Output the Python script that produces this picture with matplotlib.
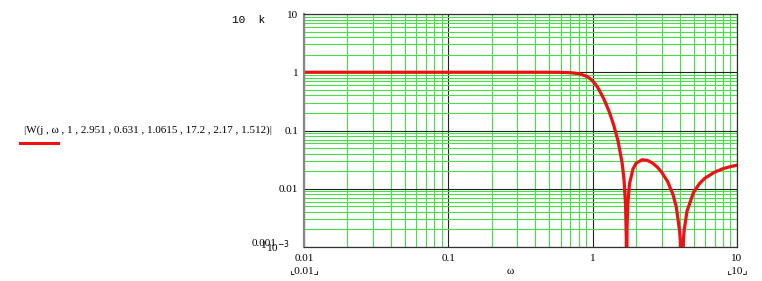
import numpy as np
import matplotlib
matplotlib.use("Agg")
import matplotlib.pyplot as plt
from matplotlib.lines import Line2D
from matplotlib.ticker import LogLocator, NullFormatter

# values
omega = [0.01, 0.1, 0.2, 0.3, 0.4, 0.5, 0.6, 0.7, 0.8, 0.9, 0.95, 1.0, 1.05,
         1.1, 1.2, 1.3, 1.4, 1.5, 1.6, 1.65, 1.69, 1.71, 1.718, 1.73, 1.75,
         1.8, 1.9, 2.0, 2.2, 2.4, 2.6, 2.8, 3.0, 3.3, 3.6, 3.8, 4.0, 4.05,
         4.147, 4.25, 4.3, 4.5, 5.0, 5.5, 6.0, 7.0, 8.0, 9.0, 10.0]
mag = [1.0, 1.0, 1.0, 1.0, 1.0, 0.999, 0.996, 0.983, 0.947, 0.861, 0.792,
       0.707, 0.612, 0.516, 0.341, 0.212, 0.123, 0.0653, 0.0276, 0.0141,
       0.0053, 0.0014, 1e-5, 0.0021, 0.0053, 0.0122, 0.0217, 0.0274, 0.0315,
       0.0306, 0.0275, 0.0236, 0.0194, 0.0134, 0.0080, 0.0048, 0.0019, 0.0013,
       1e-5, 0.0013, 0.0019, 0.0041, 0.0087, 0.0123, 0.0152, 0.0193, 0.0221,
       0.0240, 0.0254]

y_ticks = [10, 1, 0.1, 0.01, 0.001]
y_labels = ["10", "1", "0.1", "0.01", ""]
x_ticks = [0.01, 0.1, 1, 10]
x_labels = ["0.01", "0.1", "1", "10"]
expr = "|W(j , \u03c9 , 1 , 2.951 , 0.631 , 1.0615 , 17.2 , 2.17 , 1.512)|"

W, H = 762, 281
fig = plt.figure(figsize=(W / 100, H / 100), dpi=100)
ax = fig.add_axes([304 / W, 1 - 247 / H, (737 - 304) / W, (247 - 14) / H])

serif = ["Liberation Serif", "DejaVu Serif"]

ax.set_xscale("log")
ax.set_yscale("log")
ax.set_xlim(0.01, 10)
ax.set_ylim(0.001, 10)

ax.xaxis.set_minor_locator(LogLocator(base=10, subs=np.arange(2, 10)))
ax.yaxis.set_minor_locator(LogLocator(base=10, subs=np.arange(2, 10)))
ax.xaxis.set_minor_formatter(NullFormatter())
ax.yaxis.set_minor_formatter(NullFormatter())
ax.grid(which="minor", color="#44e044", lw=0.8)
ax.grid(which="major", color="#222222", lw=0.8)
ax.set_axisbelow(True)

ax.set_xticks(x_ticks, x_labels, family=serif, fontsize=8)
ax.set_yticks(y_ticks, y_labels, family=serif, fontsize=8)
ax.tick_params(which="both", length=0)
ax.tick_params(axis="x", pad=5)
ax.tick_params(axis="y", pad=4)

for s in ax.spines.values():
    s.set_color("#333333")
    s.set_linewidth(0.9)
ax.spines["left"].set_color("#888888")
ax.spines["left"].set_linewidth(1.6)

ax.plot(omega, mag, color="#ee1111", lw=2.3, solid_joinstyle="round")

# surrounding Mathcad labels
fig.text(232 / W, 1 - 20 / H, "10  k", family="Liberation Mono", fontsize=8,
         va="center", ha="left")
fig.text(252 / W, 1 - 243 / H, "0.001", family=serif, fontsize=8,
         va="center", ha="left")
fig.text(261 / W, 1 - 245 / H, "1", family=serif, fontsize=8,
         va="center", ha="left")
fig.text(266 / W, 1 - 247 / H, "10$^{-3}$", family=serif, fontsize=8,
         va="center", ha="left")
fig.text(24 / W, 1 - 130 / H, expr, family=serif, fontsize=7.9,
         va="center", ha="left")
fig.add_artist(Line2D([20 / W, 58 / W], [1 - 143 / H, 1 - 143 / H],
                      transform=fig.transFigure, color="#ee1111", lw=2.2))
fig.text(510 / W, 1 - 271 / H, "\u03c9", family=serif, fontsize=8,
         va="center", ha="center")
fig.text(304 / W, 1 - 271 / H, "\u231e0.01\u231f", family=serif + ["DejaVu Sans"],
         fontsize=8, va="center", ha="center")
fig.text(737 / W, 1 - 271 / H, "\u231e10\u231f", family=serif + ["DejaVu Sans"],
         fontsize=8, va="center", ha="center")

fig.savefig("out.png", dpi=100)
